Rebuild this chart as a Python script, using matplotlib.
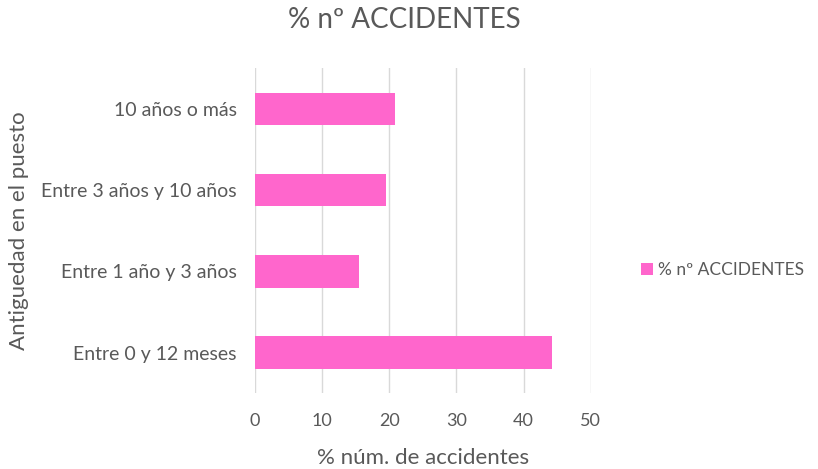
import matplotlib
matplotlib.use("Agg")
import matplotlib.pyplot as plt

# categories bottom to top, as drawn
categorias = ["Entre 0 y 12 meses", "Entre 1 año y 3 años", "Entre 3 años y 10 años", "10 años o más"]
porcentajes = [44.2, 15.5, 19.5, 20.9]
xticks = [0, 10, 20, 30, 40, 50]

plt.rcParams['font.family'] = ['Lato', 'DejaVu Sans']
gris = "#595959"

fig = plt.figure(figsize=(8.18, 4.69), dpi=100)
ax = fig.add_axes([255/818, 1 - 393.3/469, (590.7-255)/818, (393.3-68.3)/469])

ax.barh(range(len(categorias)), porcentajes, height=0.4, color="#FF66CC",
        label="% nº ACCIDENTES", zorder=3)
ax.set_xlim(0, 50)
ax.set_ylim(-0.5, len(categorias) - 0.5)
ax.set_xticks(xticks)
ax.set_yticks(range(len(categorias)))
ax.set_yticklabels(categorias, fontsize=14)
ax.grid(axis="x", color="#D9D9D9", linewidth=1, zorder=0)
for s in ax.spines.values():
    s.set_visible(False)
ax.tick_params(length=0, colors=gris)
ax.tick_params(axis="x", labelsize=13, pad=14)
ax.tick_params(axis="y", pad=13)

ax.set_xlabel("% núm. de accidentes", color=gris, fontsize=16)
ax.xaxis.set_label_coords(0.5, (393.3 - 458) / 325)
ax.xaxis.label.set_va("center")
ax.set_ylabel("Antiguedad en el puesto", color=gris, fontsize=16)
ax.yaxis.set_label_coords((19 - 255) / 335.7, 0.5)
ax.yaxis.label.set_va("center")
fig.text(404/818, 1 - 20/469, "% nº ACCIDENTES", color=gris, fontsize=20,
         ha="center", va="center")

fig.legend(loc="center left", bbox_to_anchor=(625/818, 1 - 270/469), frameon=False,
           fontsize=12.5, labelcolor=gris, handlelength=0.7, handleheight=0.7,
           handletextpad=0.3)

fig.savefig("out.png", dpi=100)
